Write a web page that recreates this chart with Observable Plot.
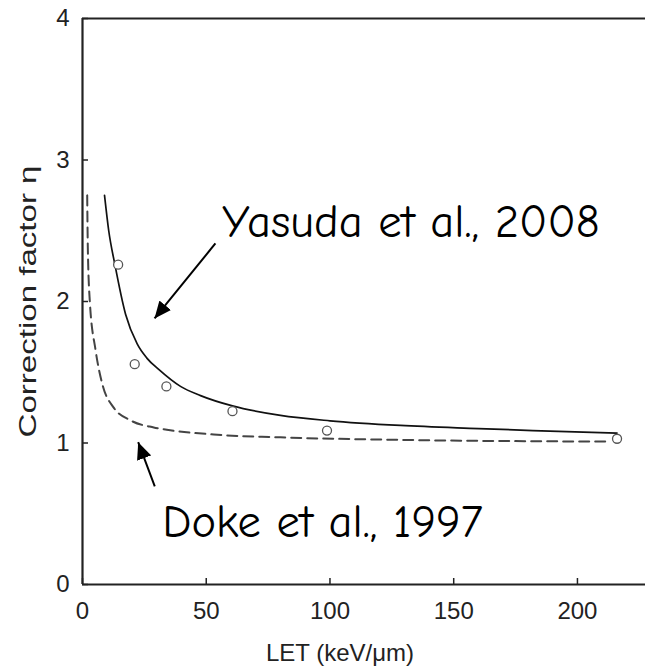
<!DOCTYPE html>
<html>
<head>
<meta charset="utf-8">
<script src="https://cdn.jsdelivr.net/npm/d3@7"></script>
<script src="https://cdn.jsdelivr.net/npm/@observablehq/plot@0.6"></script>
<style>
  html, body { margin: 0; padding: 0; background: #fff; }
  #chart svg { display: block; }
</style>
</head>
<body>
<div id="chart"></div>
<script>
// Measured points (LET keV/µm, correction factor η)
const pointLET = [14.4, 21.1, 33.9, 60.6, 98.8, 216];
const pointEta = [2.26, 1.557, 1.40, 1.225, 1.088, 1.03];

// Yasuda et al., 2008 (solid curve)
const yasudaLET = [8.9, 10.6, 13.1, 17.4, 22.1, 26, 30.8, 39.6, 47.7, 60.6, 80, 100, 128.5, 160, 182, 216];
const yasudaEta = [2.75, 2.50, 2.26, 1.91, 1.70, 1.60, 1.52, 1.40, 1.335, 1.262, 1.195, 1.157, 1.124, 1.102, 1.088, 1.07];

// Doke et al., 1997 (dashed curve)
const dokeLET = [1.9, 2.15, 2.96, 5.25, 7.95, 12.6, 19.4, 28.8, 32.8, 53, 80, 128.5, 213];
const dokeEta = [2.75, 2.38, 2.0, 1.66, 1.42, 1.25, 1.16, 1.11, 1.097, 1.06, 1.04, 1.022, 1.01];

const xTicks = [0, 50, 100, 150, 200];
const yTicks = [0, 1, 2, 3, 4];

const xLabel = "LET (keV/μm)";
const yLabel = "Correction factor η";

// Annotations
const annoText = ["Yasuda et al., 2008", "Doke et al., 1997"];
const annoX = [56.4, 32.2];
const annoY = [2.454, 0.334];
const arrowX1 = [53.7, 29.2];
const arrowY1 = [2.41, 0.693];
const arrowX2 = [29.1, 22.5];
const arrowY2 = [1.88, 1.006];

const points = pointLET.map((x, i) => ({x, y: pointEta[i]}));
const yasuda = yasudaLET.map((x, i) => ({x, y: yasudaEta[i]}));
const doke = dokeLET.map((x, i) => ({x, y: dokeEta[i]}));
const annos = annoText.map((t, i) => ({t, x: annoX[i], y: annoY[i]}));
const arrows = arrowX1.map((x1, i) => ({x1, y1: arrowY1[i], x2: arrowX2[i], y2: arrowY2[i]}));

function solidHead(color) {
  const ns = "http://www.w3.org/2000/svg";
  const m = document.createElementNS(ns, "marker");
  m.setAttribute("viewBox", "-17 -7.5 17 15");
  m.setAttribute("markerWidth", "17");
  m.setAttribute("markerHeight", "15");
  m.setAttribute("markerUnits", "userSpaceOnUse");
  m.setAttribute("orient", "auto");
  m.setAttribute("refX", "0");
  m.setAttribute("refY", "0");
  const p = document.createElementNS(ns, "path");
  p.setAttribute("d", "M-17,-7.5L0,0L-17,7.5Z");
  p.setAttribute("fill", color);
  p.setAttribute("stroke", "none");
  m.appendChild(p);
  return m;
}

const axisFont = "'Liberation Sans', Arial, Helvetica, sans-serif";
const annoFont = "'Comic Sans MS', 'Comic Neue', 'DejaVu Sans', sans-serif";
const ink = "#222";

const chart = Plot.plot({
  width: 645,
  height: 671,
  marginTop: 18,
  marginLeft: 82,
  marginRight: 0,
  marginBottom: 87,
  style: {fontFamily: axisFont, background: "#fff", color: ink},
  x: {domain: [0, 227.5]},
  y: {domain: [0, 4]},
  marks: [
    Plot.axisX({ticks: xTicks, tickSize: -6, tickPadding: 23, fontSize: 24, label: null, stroke: ink, strokeWidth: 1.5, tickFormat: d => d}),
    Plot.axisY({ticks: yTicks, tickSize: -6, tickPadding: 19, fontSize: 24, label: null, stroke: ink, strokeWidth: 1.5, tickFormat: d => d}),
    Plot.ruleY([4], {stroke: ink, strokeWidth: 2.2}),
    Plot.ruleY([0], {stroke: ink, strokeWidth: 2.2}),
    Plot.ruleX([0], {stroke: ink, strokeWidth: 2.2}),
    Plot.line(doke, {x: "x", y: "y", stroke: "#444", strokeWidth: 2, strokeDasharray: "10,6", curve: "monotone-x"}),
    Plot.line(yasuda, {x: "x", y: "y", stroke: "#111", strokeWidth: 1.7, curve: "monotone-x"}),
    Plot.dot(points, {x: "x", y: "y", r: 4.5, stroke: "#555", strokeWidth: 1.3, fill: "#fff"}),
    Plot.link(arrows, {x1: "x1", y1: "y1", x2: "x2", y2: "y2", stroke: "#000", strokeWidth: 2, markerEnd: solidHead}),
    Plot.text(annos, {x: "x", y: "y", text: "t", textAnchor: "start", lineAnchor: "bottom", fontSize: 46.5, fontFamily: annoFont, fill: "#000"}),
    Plot.text([yLabel], {frameAnchor: "left", textAnchor: "middle", dx: -54, rotate: -90, fontSize: 24, fill: ink}),
    Plot.text([xLabel], {frameAnchor: "bottom", textAnchor: "middle", dx: -24, dy: 69, fontSize: 24, fill: ink, lineAnchor: "middle"})
  ]
});

// The reference's axis title is drawn stretched along its length
for (const t of chart.querySelectorAll("text")) {
  if (t.textContent === yLabel) {
    t.setAttribute("textLength", "272");
    t.setAttribute("lengthAdjust", "spacingAndGlyphs");
  }
}

document.getElementById("chart").appendChild(chart);
</script>
</body>
</html>
